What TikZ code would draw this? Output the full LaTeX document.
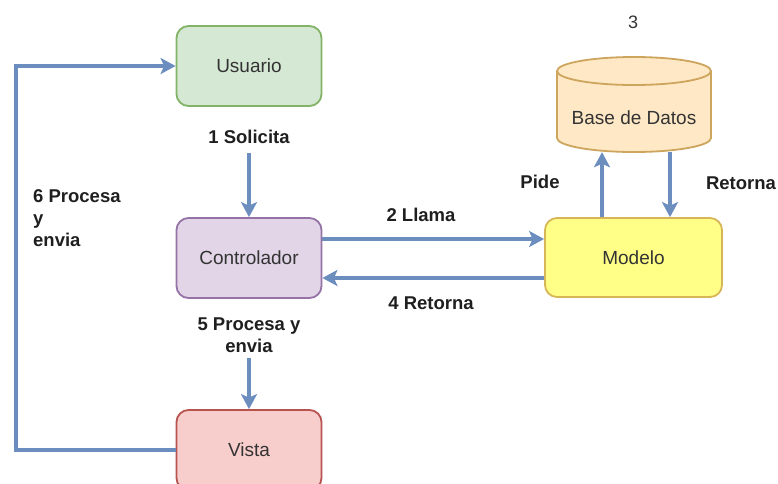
\documentclass[tikz,border=0pt]{standalone}
\usepackage{fontspec}
\setmainfont{Liberation Sans}
\usetikzlibrary{arrows.meta,calc}
\definecolor{arrowblue}{HTML}{6C8EBF}
\definecolor{greenfill}{HTML}{D5E8D4}\definecolor{greenline}{HTML}{82B366}
\definecolor{purplefill}{HTML}{E1D5E7}\definecolor{purpleline}{HTML}{9673A6}
\definecolor{redfill}{HTML}{F8CECC}\definecolor{redline}{HTML}{B85450}
\definecolor{yellowfill}{HTML}{FFFF88}\definecolor{yellowline}{HTML}{D6B656}
\definecolor{dbfill}{HTML}{FFE8C6}\definecolor{dbline}{HTML}{CDA55C}
\definecolor{boxtext}{HTML}{333333}
\tikzset{
  box/.style={draw, line width=1.8pt, rounded corners=12pt, minimum width=145pt,
    minimum height=80pt, text=boxtext, font=\fontsize{19}{22}\selectfont},
  lbl/.style={text=black!88, font=\fontsize{18.5}{22}\selectfont\bfseries, inner sep=1pt},
  flow/.style={draw=arrowblue, line width=3.2pt,
    -{Stealth[length=15pt,width=16pt,inset=3.5pt]}},
}
\begin{document}
\begin{tikzpicture}[x=1pt,y=-1pt]
  \clip (0,0) rectangle (778,483);
  \fill[white] (0,0) rectangle (778,483);

  % components
  \node[box, fill=greenfill, draw=greenline] (usu) at (249,66) {Usuario};
  \node[box, fill=purplefill, draw=purpleline] (ctrl) at (249,258) {Controlador};
  \node[box, fill=redfill, draw=redline] (vista) at (249,450) {Vista};
  \node[box, fill=yellowfill, draw=yellowline, minimum width=177pt, minimum height=79pt]
    (mod) at (633.5,257.5) {Modelo};

  % database cylinder, with its caption node on top
  \filldraw[fill=dbfill, draw=dbline, line width=1.8pt]
    (557,71) -- (557,138) arc (180:360:77pt and 14pt) -- (711,71)
    arc (0:180:77pt and 14pt) -- cycle;
  \draw[dbline, line width=1.8pt] (557,71) arc (180:360:77pt and 14pt);
  \node[text=boxtext, font=\fontsize{19}{22}\selectfont, minimum width=154pt,
    minimum height=68pt, inner sep=0pt] (db) at (634,118) {Base de Datos};
  \node[text=boxtext, font=\fontsize{18}{22}\selectfont] (n3) at (633,22) {3};

  % labels
  \node[lbl] (l1) at (249,137) {1 Solicita};
  \node[lbl, align=center] (l5) at (249,335) {5 Procesa y\\envia};
  \node[lbl, align=left, anchor=west] (l6) at (32,218) {6 Procesa\\y\\envia};
  \node[lbl] (l2) at (421,215) {2 Llama};
  \node[lbl] (l4) at (431,303) {4 Retorna};
  \node[lbl] (lp) at (540,182) {Pide};
  \node[lbl] (lr) at (741,183) {Retorna};

  % connectors
  \draw[flow, shorten <=8pt] (l1.south) -- (ctrl.north);
  \draw[flow, shorten <=4pt] (l5.south) -- (vista.north);
  \draw[flow] ($(ctrl.east)+(0,-19)$) -- ($(mod.west)+(0,-18.5)$);
  \draw[flow] ($(mod.west)+(0,20.5)$) -- ($(ctrl.east)+(0,20)$);
  \draw[flow] ($(mod.north)+(-31.5,0)$) -- ($(db.south)+(-32,0)$);
  \draw[flow] ($(db.south)+(36,0)$) -- ($(mod.north)+(36.5,0)$);
  \draw[flow] (vista.west) -- (16,450) |- (usu.west);
\end{tikzpicture}
\end{document}
